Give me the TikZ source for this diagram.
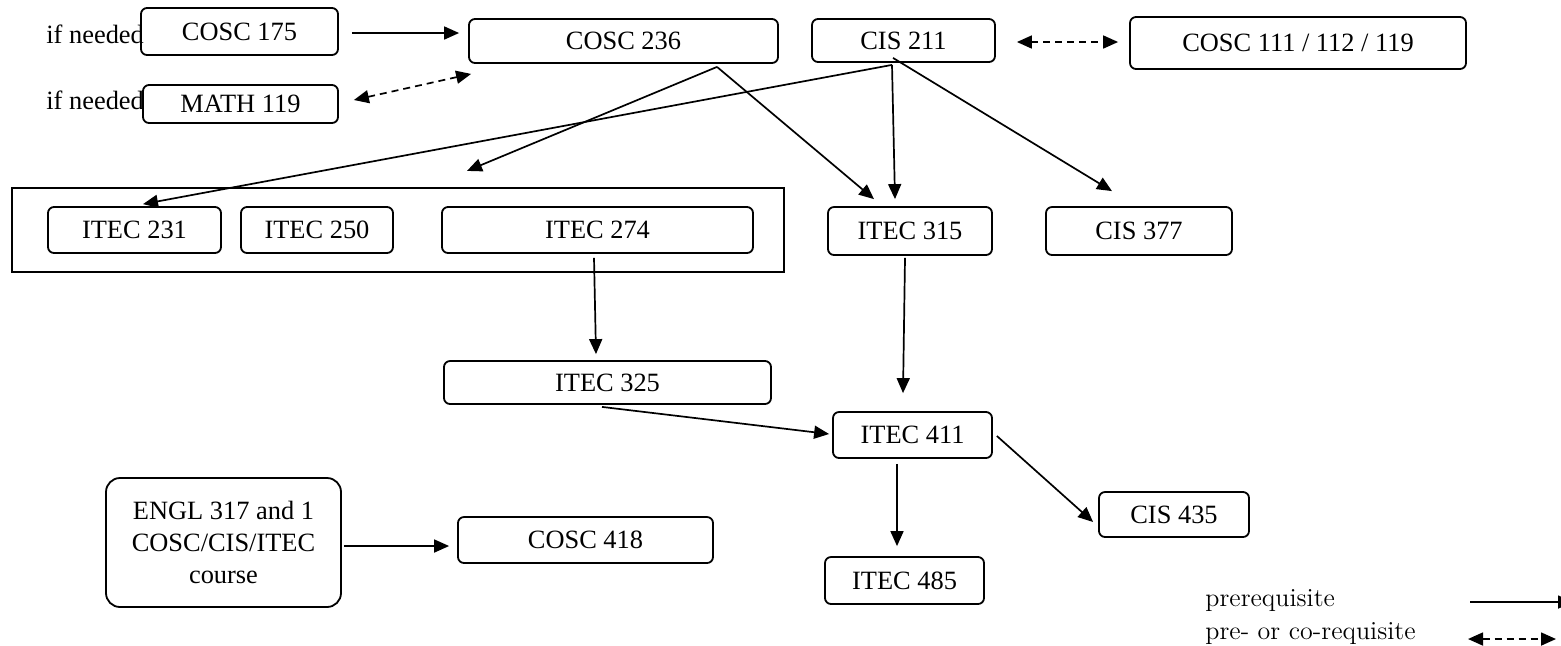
\documentclass[tikz,border=0pt]{standalone}
\usepackage{fontspec}
\setmainfont{Liberation Serif}
\newfontfamily\legendfont{Latin Modern Roman}
\usetikzlibrary{arrows.meta,calc}
\tikzset{
  course/.style={draw, line width=0.9pt, rounded corners=3pt, inner sep=0pt, align=center,
    font=\fontsize{13.2}{15.8}\selectfont},
  pre/.style={line width=0.85pt, -{Triangle[length=7.5pt,width=6.5pt]}},
  coreq/.style={line width=0.85pt, dash pattern=on 3.5pt off 2.5pt,
    {Triangle[length=7.5pt,width=6.5pt]}-{Triangle[length=7.5pt,width=6.5pt]}},
  note/.style={inner sep=0pt, font=\fontsize{13.2}{15.8}\selectfont},
  legend/.style={inner sep=0pt, anchor=west, font=\legendfont\fontsize{13}{15}\selectfont}
}
\begin{document}
\begin{tikzpicture}[x=0.5pt,y=-0.5pt]
\useasboundingbox (0,0) rectangle (1561,645);
% group rectangle
\node[draw, line width=1.1pt, inner sep=0pt, minimum width=386pt, minimum height=42pt] (grp) at (398,230) {};
% top row
\node[course, minimum width=98.5pt, minimum height=23.5pt] (c175) at (239.5,31.5) {COSC 175};
\node[course, minimum width=97.5pt, minimum height=19pt] (m119) at (240.5,104) {\raisebox{-1.5pt}{MATH 119}};
\node[note, anchor=west] (if1) at (46,34) {if needed};
\node[note, anchor=west] (if2) at (46,100) {if needed};
\node[course, minimum width=154.5pt, minimum height=22pt] (c236) at (623.5,41) {COSC 236};
\node[course, minimum width=91.5pt, minimum height=21.5pt] (cis211) at (903.5,40.5) {CIS 211};
\node[course, minimum width=168pt, minimum height=26pt] (c111) at (1298,43) {COSC 111 / 112 / 119};
% second row
\node[course, minimum width=86.5pt, minimum height=23pt] (i231) at (134.5,230) {ITEC 231};
\node[course, minimum width=76pt, minimum height=23pt] (i250) at (317,230) {ITEC 250};
\node[course, minimum width=155.5pt, minimum height=23pt] (i274) at (597.5,230) {ITEC 274};
\node[course, minimum width=82pt, minimum height=24pt] (i315) at (910,231) {ITEC 315};
\node[course, minimum width=93pt, minimum height=24pt] (cis377) at (1139,231) {CIS 377};
% lower
\node[course, minimum width=163.5pt, minimum height=21.5pt] (i325) at (607.5,382.5) {ITEC 325};
\node[course, minimum width=79.5pt, minimum height=23pt] (i411) at (912.5,435) {ITEC 411};
\node[course, minimum width=75pt, minimum height=22.5pt] (cis435) at (1174,514.5) {CIS 435};
\node[course, minimum width=79.5pt, minimum height=23.5pt] (i485) at (904.5,580.5) {ITEC 485};
\node[course, rounded corners=7pt, minimum width=117.5pt, minimum height=64.5pt,
  font=\fontsize{13.2}{15.8}\selectfont] (engl) at (223.5,542.5)
  {ENGL 317 and 1\\COSC/CIS/ITEC\\course};
\node[course, minimum width=127.5pt, minimum height=23pt] (c418) at (585.5,540) {COSC 418};
% connectors
\draw[pre] ($(c175.east)+(13,1.5)$) -- ($(c236.west)+(-9,-8)$);
\draw[coreq] ($(m119.east)+(15,-4)$) -- ($(c236.south west)+(3,10)$);
\draw[coreq] ($(cis211.east)+(21,1.5)$) -- ($(c111.west)+(-11,-1)$);
\coordinate (grptop) at ($(grp.north)+(69,-16)$);
\draw[pre] ($(c236.south)+(93.5,3)$) -- (grptop);
\draw[pre] ($(c236.south)+(93.5,3)$) -- ($(i315.north)+(-36,-7)$);
\draw[pre] ($(cis211.south)+(-11.5,2)$) -- ($(i231.north)+(8.5,-2)$);
\draw[pre] ($(cis211.south)+(-11.5,2)$) -- ($(i315.north)+(-15,-7)$);
\draw[pre] ($(cis211.south)+(-10.5,-5)$) -- ($(cis377.north)+(-27,-15)$);
\draw[pre] ($(i274.south)+(-3.5,4)$) -- ($(i325.north)+(-11.5,-6)$);
\draw[pre] ($(i315.south)+(-5,2)$) -- ($(i411.north)+(-9.5,-18)$);
\draw[pre] ($(i325.south)+(-5.5,2)$) -- ($(i411.west)+(-3,-1)$);
\draw[pre] ($(i411.south)+(-15.5,5)$) -- ($(i485.north)+(-7.5,-10)$);
\draw[pre] ($(i411.east)+(4,1)$) -- ($(cis435.west)+(-5,7.5)$);
\draw[pre] ($(engl.east)+(2,3.5)$) -- ($(c418.west)+(-8,6)$);
% legend
\node[legend] (lg1) at (1205,601) {prerequisite};
\node[legend] (lg2) at (1205,634) {pre- or co-requisite};
\coordinate (l1a) at (1470,602);
\coordinate (l1b) at (1573,602);
\coordinate (l2a) at (1468,639);
\coordinate (l2b) at (1556,639);
\draw[pre] (l1a) -- (l1b);
\draw[coreq] (l2a) -- (l2b);
\end{tikzpicture}
\end{document}
